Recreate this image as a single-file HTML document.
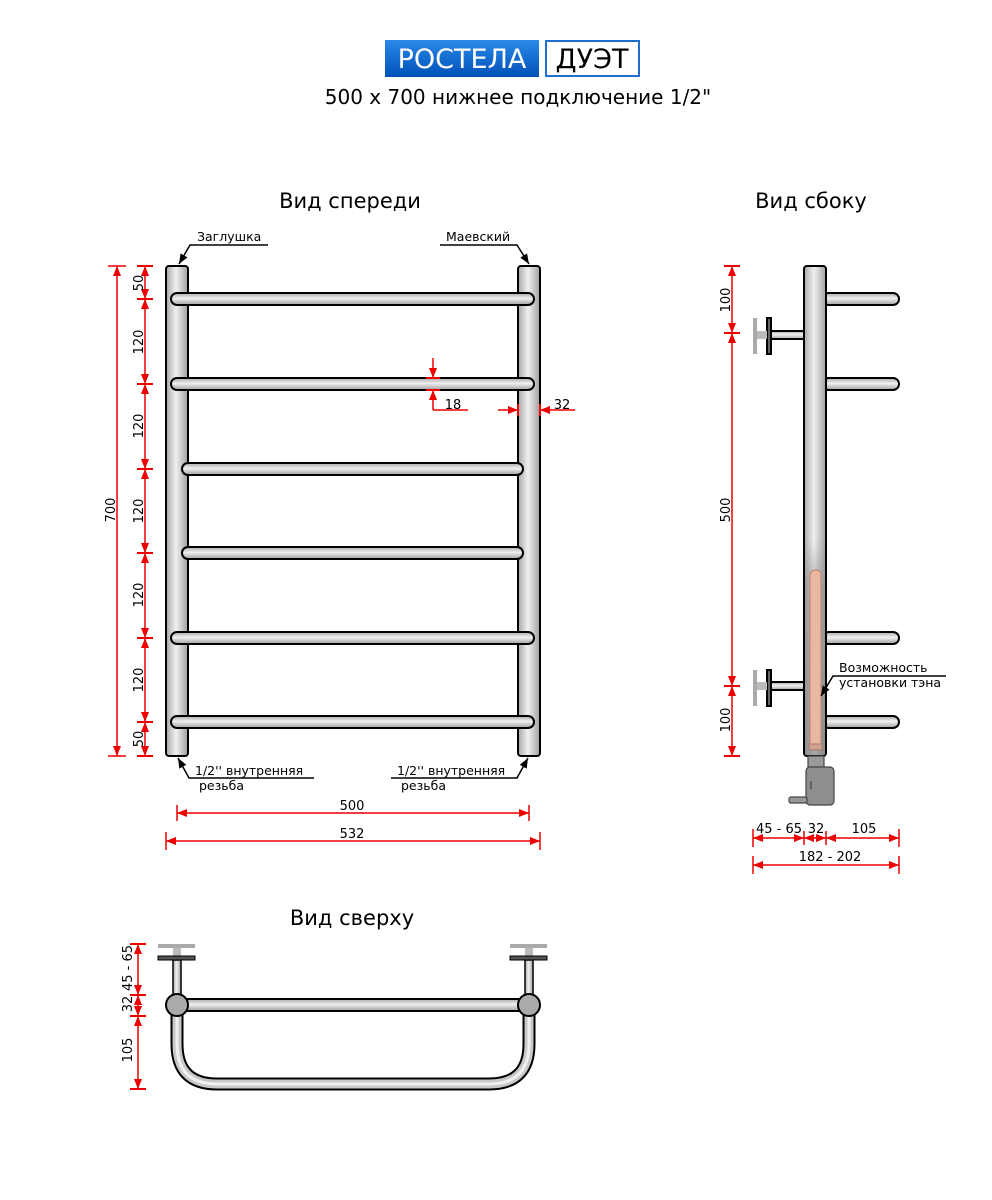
<!DOCTYPE html>
<html><head><meta charset="utf-8"><style>
html,body{margin:0;padding:0;background:#fff;}
svg{display:block;}
text{font-family:"DejaVu Sans","Liberation Sans",sans-serif;}
</style></head><body>
<svg width="992" height="1200" viewBox="0 0 992 1200" xmlns="http://www.w3.org/2000/svg">
<defs>
<linearGradient id="gv" x1="0" y1="0" x2="1" y2="0">
<stop offset="0" stop-color="#a8a8a8"/><stop offset="0.45" stop-color="#f0f0f0"/><stop offset="1" stop-color="#a0a0a0"/></linearGradient>
<linearGradient id="gh" x1="0" y1="0" x2="0" y2="1">
<stop offset="0" stop-color="#a8a8a8"/><stop offset="0.45" stop-color="#f0f0f0"/><stop offset="1" stop-color="#a0a0a0"/></linearGradient>
<linearGradient id="dk" x1="0" y1="0" x2="0" y2="1">
<stop offset="0" stop-color="#888" stop-opacity="0"/><stop offset="0.2" stop-color="#888" stop-opacity="0.5"/><stop offset="1" stop-color="#777" stop-opacity="0.6"/></linearGradient>
<linearGradient id="blue" x1="0" y1="0" x2="0" y2="1">
<stop offset="0" stop-color="#2a8ae8"/><stop offset="1" stop-color="#0050b8"/></linearGradient>
<marker id="ar" viewBox="0 0 10 10" refX="10" refY="5" markerWidth="10" markerHeight="10" orient="auto-start-reverse" markerUnits="userSpaceOnUse"><path d="M0,1 L10,5 L0,9 Z" fill="#e00"/></marker>
<marker id="ab" viewBox="0 0 10 10" refX="10" refY="5" markerWidth="10" markerHeight="10" orient="auto" markerUnits="userSpaceOnUse"><path d="M0,1 L10,5 L0,9 Z" fill="#000"/></marker>
</defs>

<rect x="385" y="40" width="154" height="37" fill="url(#blue)"/>
<text x="462" y="68" font-size="27" fill="#fff" text-anchor="middle" font-family="Liberation Sans">РОСТЕЛА</text>
<rect x="546" y="41" width="93" height="35" fill="#fff" stroke="#1f6fd0" stroke-width="2"/>
<text x="592" y="68" font-size="27" fill="#000" text-anchor="middle" font-family="Liberation Sans">ДУЭТ</text>
<text x="518" y="104" font-size="20" text-anchor="middle">500 x 700 нижнее подключение 1/2"</text>

<text x="350" y="208" font-size="21" text-anchor="middle">Вид спереди</text>
<text x="811" y="208" font-size="21" text-anchor="middle">Вид сбоку</text>
<text x="352" y="925" font-size="21" text-anchor="middle">Вид сверху</text>

<g stroke="#000" stroke-width="2">
<rect x="166" y="266" width="22" height="490" rx="3" fill="url(#gv)"/>
<rect x="518" y="266" width="22" height="490" rx="3" fill="url(#gv)"/>
<g fill="url(#gh)">
<rect x="171" y="293" width="363" height="12" rx="6"/>
<rect x="171" y="378" width="363" height="12" rx="6"/>
<rect x="182" y="463" width="341" height="12" rx="6"/>
<rect x="182" y="547" width="341" height="12" rx="6"/>
<rect x="171" y="632" width="363" height="12" rx="6"/>
<rect x="171" y="716" width="363" height="12" rx="6"/>
</g>
</g>

<g stroke="#e00" stroke-width="1.5" fill="none">
<line x1="117" y1="266" x2="117" y2="756" marker-start="url(#ar)" marker-end="url(#ar)"/>
<line x1="108" y1="266" x2="126" y2="266"/><line x1="108" y1="756" x2="126" y2="756"/>
<line x1="145" y1="266" x2="145" y2="299" marker-start="url(#ar)" marker-end="url(#ar)"/>
<line x1="145" y1="299" x2="145" y2="384" marker-start="url(#ar)" marker-end="url(#ar)"/>
<line x1="145" y1="384" x2="145" y2="469" marker-start="url(#ar)" marker-end="url(#ar)"/>
<line x1="145" y1="469" x2="145" y2="553" marker-start="url(#ar)" marker-end="url(#ar)"/>
<line x1="145" y1="553" x2="145" y2="638" marker-start="url(#ar)" marker-end="url(#ar)"/>
<line x1="145" y1="638" x2="145" y2="722" marker-start="url(#ar)" marker-end="url(#ar)"/>
<line x1="145" y1="722" x2="145" y2="756" marker-start="url(#ar)" marker-end="url(#ar)"/>
<g stroke-width="2">
<line x1="137" y1="266" x2="153" y2="266"/><line x1="137" y1="299" x2="153" y2="299"/>
<line x1="137" y1="384" x2="153" y2="384"/><line x1="137" y1="469" x2="153" y2="469"/>
<line x1="137" y1="553" x2="153" y2="553"/><line x1="137" y1="638" x2="153" y2="638"/>
<line x1="137" y1="722" x2="153" y2="722"/><line x1="137" y1="756" x2="153" y2="756"/>
</g>
<line x1="433" y1="358" x2="433" y2="378" marker-end="url(#ar)"/>
<line x1="433" y1="410" x2="433" y2="390" marker-end="url(#ar)"/>
<line x1="433" y1="410" x2="468" y2="410"/>
<line x1="426" y1="378" x2="440" y2="378" stroke-width="2"/><line x1="426" y1="390" x2="440" y2="390" stroke-width="2"/>
<line x1="498" y1="410" x2="518" y2="410" marker-end="url(#ar)"/>
<line x1="575" y1="410" x2="540" y2="410" marker-end="url(#ar)"/>
<line x1="518" y1="404" x2="518" y2="416" stroke-width="2"/><line x1="540" y1="404" x2="540" y2="416" stroke-width="2"/>
<line x1="177" y1="813" x2="529" y2="813" marker-start="url(#ar)" marker-end="url(#ar)"/>
<line x1="177" y1="805" x2="177" y2="821"/><line x1="529" y1="805" x2="529" y2="821"/>
<line x1="166" y1="841" x2="540" y2="841" marker-start="url(#ar)" marker-end="url(#ar)"/>
<line x1="166" y1="832" x2="166" y2="850"/><line x1="540" y1="832" x2="540" y2="850"/>
</g>
<g font-size="13" text-anchor="middle">
<text transform="translate(115,510) rotate(-90)">700</text>
<text transform="translate(143,283) rotate(-90)">50</text>
<text transform="translate(143,342) rotate(-90)">120</text>
<text transform="translate(143,426) rotate(-90)">120</text>
<text transform="translate(143,511) rotate(-90)">120</text>
<text transform="translate(143,595) rotate(-90)">120</text>
<text transform="translate(143,680) rotate(-90)">120</text>
<text transform="translate(143,739) rotate(-90)">50</text>
<text x="453" y="409">18</text>
<text x="562" y="409">32</text>
<text x="352" y="810">500</text>
<text x="352" y="838">532</text>
</g>
<g font-size="12.5">
<text x="197" y="241">Заглушка</text>
<text x="446" y="241">Маевский</text>
<text x="195" y="775">1/2'' внутренняя</text>
<text x="199" y="790">резьба</text>
<text x="397" y="775">1/2'' внутренняя</text>
<text x="401" y="790">резьба</text>
</g>
<g stroke="#000" stroke-width="1.5" fill="none">
<polyline points="268,245 190,245 179,264" marker-end="url(#ab)"/>
<polyline points="440,245 517,245 529,264" marker-end="url(#ab)"/>
<polyline points="314,778 189,778 178,758" marker-end="url(#ab)"/>
<polyline points="391,778 517,778 528,758" marker-end="url(#ab)"/>
</g>

<g stroke="#000" stroke-width="2">
<rect x="822" y="293" width="77" height="12" rx="6" fill="url(#gh)"/>
<rect x="822" y="378" width="77" height="12" rx="6" fill="url(#gh)"/>
<rect x="822" y="632" width="77" height="12" rx="6" fill="url(#gh)"/>
<rect x="822" y="716" width="77" height="12" rx="6" fill="url(#gh)"/>
<rect x="771" y="331" width="33" height="8" fill="url(#gh)"/>
<rect x="771" y="682" width="33" height="8" fill="url(#gh)"/>
<rect x="804" y="266" width="22" height="490" rx="3" fill="url(#gv)"/>
<rect x="767" y="318" width="4" height="36" fill="#666"/>
<rect x="767" y="670" width="4" height="36" fill="#666"/>
</g>
<rect x="753" y="318" width="4" height="36" fill="#aaa"/>
<rect x="757" y="331" width="10" height="8" fill="#bbb"/>
<rect x="753" y="670" width="4" height="36" fill="#aaa"/>
<rect x="757" y="682" width="10" height="8" fill="#bbb"/>
<rect x="805" y="540" width="20" height="215" fill="url(#dk)"/>
<rect x="810" y="570" width="11" height="180" rx="5" fill="#e8b8a0" stroke="#c08070" stroke-width="1"/>
<rect x="809" y="744" width="13" height="6" fill="#d0a090" stroke="#a07060" stroke-width="0.8"/>
<g stroke="#444" stroke-width="1.2">
<rect x="808" y="756" width="16" height="12" fill="#9a9a9a"/>
<rect x="806" y="767" width="28" height="38" rx="4" fill="#8e8e8e"/>
<rect x="789" y="797" width="18" height="6" rx="2" fill="#999"/>
<line x1="811" y1="781" x2="811" y2="789"/>
</g>
<g stroke="#e00" stroke-width="1.5" fill="none">
<line x1="732" y1="266" x2="732" y2="333" marker-start="url(#ar)" marker-end="url(#ar)"/>
<line x1="732" y1="333" x2="732" y2="686" marker-start="url(#ar)" marker-end="url(#ar)"/>
<line x1="732" y1="686" x2="732" y2="756" marker-start="url(#ar)" marker-end="url(#ar)"/>
<line x1="724" y1="266" x2="740" y2="266" stroke-width="2"/><line x1="724" y1="333" x2="740" y2="333" stroke-width="2"/>
<line x1="724" y1="686" x2="740" y2="686" stroke-width="2"/><line x1="724" y1="756" x2="740" y2="756" stroke-width="2"/>
<line x1="753" y1="838" x2="804" y2="838" marker-start="url(#ar)" marker-end="url(#ar)"/>
<line x1="804" y1="838" x2="826" y2="838" marker-start="url(#ar)" marker-end="url(#ar)"/>
<line x1="826" y1="838" x2="899" y2="838" marker-start="url(#ar)" marker-end="url(#ar)"/>
<line x1="753" y1="829" x2="753" y2="847"/><line x1="804" y1="831" x2="804" y2="845"/>
<line x1="826" y1="831" x2="826" y2="845"/><line x1="899" y1="829" x2="899" y2="847"/>
<line x1="753" y1="865" x2="899" y2="865" marker-start="url(#ar)" marker-end="url(#ar)"/>
<line x1="753" y1="856" x2="753" y2="874"/><line x1="899" y1="856" x2="899" y2="874"/>
</g>
<g font-size="13" text-anchor="middle">
<text transform="translate(730,300) rotate(-90)">100</text>
<text transform="translate(730,510) rotate(-90)">500</text>
<text transform="translate(730,720) rotate(-90)">100</text>
<text x="779" y="833">45 - 65</text>
<text x="816" y="833">32</text>
<text x="864" y="833">105</text>
<text x="830" y="861">182 - 202</text>
</g>
<g font-size="12.5">
<text x="839" y="672">Возможность</text>
<text x="839" y="687">установки тэна</text>
</g>
<polyline points="946,676 833,676 821,696" stroke="#000" stroke-width="1.5" fill="none" marker-end="url(#ab)"/>

<g>
<path d="M177,1005 L177,1044 Q177,1084 217,1084 L489,1084 Q529,1084 529,1044 L529,1005" fill="none" stroke="#000" stroke-width="13"/>
<path d="M177,1005 L177,1044 Q177,1084 217,1084 L489,1084 Q529,1084 529,1044 L529,1005" fill="none" stroke="#c8c8c8" stroke-width="9"/>
<path d="M177,1005 L177,1044 Q177,1084 217,1084 L489,1084 Q529,1084 529,1044 L529,1005" fill="none" stroke="#f0f0f0" stroke-width="3"/>
<rect x="177" y="999" width="352" height="12" fill="url(#gh)" stroke="#000" stroke-width="2"/>
<rect x="173" y="960" width="8" height="36" fill="url(#gv)" stroke="#000" stroke-width="1.5"/>
<rect x="525" y="960" width="8" height="36" fill="url(#gv)" stroke="#000" stroke-width="1.5"/>
<rect x="158" y="944" width="37" height="4" fill="#aaa"/>
<rect x="173" y="948" width="8" height="10" fill="#bbb"/>
<rect x="158" y="956" width="37" height="4" fill="#555" stroke="#000"/>
<rect x="510" y="944" width="37" height="4" fill="#aaa"/>
<rect x="525" y="948" width="8" height="10" fill="#bbb"/>
<rect x="510" y="956" width="37" height="4" fill="#555" stroke="#000"/>
<circle cx="177" cy="1005" r="11" fill="#aaa" stroke="#000" stroke-width="2"/>
<circle cx="529" cy="1005" r="11" fill="#aaa" stroke="#000" stroke-width="2"/>
</g>
<g stroke="#e00" stroke-width="1.5" fill="none">
<line x1="138" y1="944" x2="138" y2="995" marker-start="url(#ar)" marker-end="url(#ar)"/>
<line x1="138" y1="995" x2="138" y2="1016" marker-start="url(#ar)" marker-end="url(#ar)"/>
<line x1="138" y1="1016" x2="138" y2="1089" marker-start="url(#ar)" marker-end="url(#ar)"/>
<line x1="130" y1="944" x2="146" y2="944" stroke-width="2"/><line x1="130" y1="995" x2="146" y2="995" stroke-width="2"/>
<line x1="130" y1="1016" x2="146" y2="1016" stroke-width="2"/><line x1="130" y1="1089" x2="146" y2="1089" stroke-width="2"/>
</g>
<g font-size="13" text-anchor="middle">
<text transform="translate(132,968) rotate(-90)">45 - 65</text>
<text transform="translate(132,1004) rotate(-90)">32</text>
<text transform="translate(132,1050) rotate(-90)">105</text>
</g>
</svg>
</body></html>
